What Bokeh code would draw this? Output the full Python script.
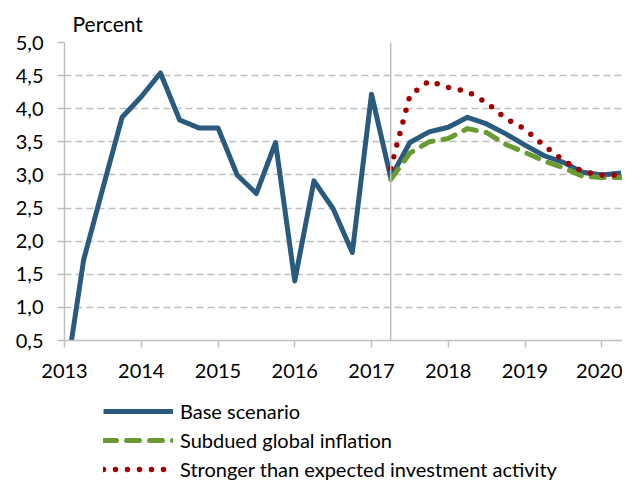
from bokeh.plotting import figure
from bokeh.layouts import column
from bokeh.models import Legend, LegendItem, Span, FixedTicker, Range1d
from bokeh.embed import file_html
from bokeh.resources import INLINE

# ---- data ----
quarters = [f"{y}Q{q}" for y in range(2013, 2021) for q in (1, 2, 3, 4)][:30]
base = [-0.2, 1.72, 2.8, 3.87, 4.18, 4.54, 3.83, 3.71, 3.71, 3.0, 2.72, 3.49,
        1.40, 2.91, 2.49, 1.83, 4.22, 2.96, 3.49, 3.65, 3.72, 3.87, 3.77, 3.62,
        3.45, 3.29, 3.19, 3.04, 3.0, 3.03]
scen_quarters = quarters[17:]
subdued = [2.93, 3.33, 3.5, 3.55, 3.70, 3.64, 3.46, 3.34, 3.21, 3.11, 2.98, 2.96, 2.96]
stronger = [3.1, 4.2, 4.42, 4.32, 4.26, 4.09, 3.85, 3.69, 3.44, 3.22, 3.05, 3.0, 3.0]
forecast_start = "2017Q2"
series_names = ["Base scenario", "Subdued global inflation",
                "Stronger than expected investment activity"]
y_ticks = [0.5, 1.0, 1.5, 2.0, 2.5, 3.0, 3.5, 4.0, 4.5, 5.0]
y_tick_labels = ["0,5", "1,0", "1,5", "2,0", "2,5", "3,0", "3,5", "4,0", "4,5", "5,0"]
x_ticks = [2013, 2014, 2015, 2016, 2017, 2018, 2019, 2020]
x_tick_labels = ["2013", "2014", "2015", "2016", "2017", "2018", "2019", "2020"]
y_label = "Percent"


def qpos(s):
    y, q = s.split("Q")
    return int(y) + (int(q) - 1) / 4.0


FONT = "Lato"
FS = "20px"
GRAY = "#bfbfbf"
BLUE = "#2a5b7e"
GREEN = "#6a9b33"
RED = "#a00000"

styles = [dict(line_color=BLUE, line_width=5, line_join="round"),
          dict(line_color=GREEN, line_width=5, line_dash="13 10",
               line_cap="round", line_join="round"),
          dict(line_color=RED, line_width=5.5, line_dash="0 12",
               line_cap="round", line_join="round")]

p = figure(width=622, height=389, output_backend="svg", toolbar_location=None,
           x_range=Range1d(2013, 2020.27), y_range=Range1d(0.5, 5.0),
           min_border_left=64, min_border_right=0, min_border_top=42,
           min_border_bottom=49, title=y_label)
p.outline_line_color = None
p.background_fill_color = "white"
p.border_fill_color = "white"

p.title.text_font = FONT
p.title.text_font_size = "21px"
p.title.text_font_style = "normal"
p.title.text_color = "#000000"
p.title.align = "left"
p.title.offset = 8
p.title.standoff = 14

for ax in (p.xaxis[0], p.yaxis[0]):
    ax.axis_line_color = GRAY
    ax.axis_line_width = 1.5
    ax.major_tick_line_color = GRAY
    ax.major_tick_line_width = 1.5
    ax.major_tick_out = 7
    ax.major_tick_in = 0
    ax.minor_tick_line_color = None
    ax.major_label_text_font = FONT
    ax.major_label_text_font_size = FS
    ax.major_label_text_color = "#000000"

p.yaxis.major_label_standoff = 14
p.xaxis.major_label_standoff = 16
p.yaxis.ticker = FixedTicker(ticks=y_ticks)
p.yaxis.major_label_overrides = dict(zip(y_ticks, y_tick_labels))
p.xaxis.ticker = FixedTicker(ticks=x_ticks)
p.xaxis.major_label_overrides = dict(zip(x_ticks, x_tick_labels))

p.xgrid.grid_line_color = None
p.ygrid.grid_line_color = GRAY
p.ygrid.grid_line_width = 1.5
p.ygrid.grid_line_dash = "7 4"

p.add_layout(Span(location=qpos(forecast_start), dimension="height",
                  line_color=GRAY, line_width=1.5))

xb = [qpos(q) for q in quarters]
xs = [qpos(q) for q in scen_quarters]
p.line(xb, base, **styles[0])
p.line(xs, subdued, **styles[1])
p.line(xs, stronger, **styles[2])

# legend strip below the chart; its proxy lines carry the same series but lie
# outside this strip's view, so only the legend shows
lg = figure(width=622, height=93, output_backend="svg", toolbar_location=None,
            x_range=Range1d(0, 1), y_range=Range1d(0, 1),
            x_axis_location=None, y_axis_location=None,
            min_border_left=0, min_border_right=0, min_border_top=0,
            min_border_bottom=0)
lg.outline_line_color = None
lg.xgrid.grid_line_color = None
lg.ygrid.grid_line_color = None
proxies = [lg.line(xb, base, **styles[0]),
           lg.line(xs, subdued, **styles[1]),
           lg.line(xs, stronger, **styles[2])]

legend = Legend(items=[LegendItem(label=n, renderers=[r])
                       for n, r in zip(series_names, proxies)],
                location=(39, 1), orientation="vertical",
                border_line_color=None, background_fill_alpha=0,
                padding=0, margin=0, spacing=5,
                glyph_width=70, glyph_height=20, label_height=20,
                label_standoff=7, label_text_font=FONT,
                label_text_font_size=FS, label_text_color="#000000")
lg.add_layout(legend)

open("out.html", "w").write(file_html(column(p, lg, spacing=0), INLINE))
